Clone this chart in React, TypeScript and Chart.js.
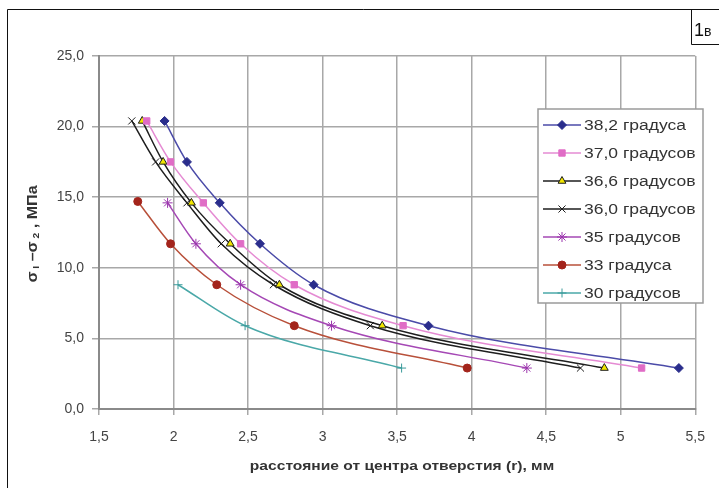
import React, { useEffect, useRef } from "react";
import { Chart, registerables } from "chart.js";
import { drawPoint } from "chart.js/helpers";

Chart.register(...registerables);

const seriesNames = [
  "38,2 градуса",
  "37,0 градусов",
  "36,6 градусов",
  "36,0 градусов",
  "35 градусов",
  "33 градуса",
  "30 градусов",
];

const x382 = [1.94, 2.09, 2.31, 2.58, 2.94, 3.71, 5.39];
const y382 = [20.4, 17.5, 14.6, 11.7, 8.8, 5.9, 2.9];
const x370 = [1.82, 1.98, 2.2, 2.45, 2.81, 3.54, 5.14];
const y370 = [20.4, 17.5, 14.6, 11.7, 8.8, 5.9, 2.9];
const x366 = [1.79, 1.93, 2.12, 2.38, 2.71, 3.4, 4.89];
const y366 = [20.4, 17.5, 14.6, 11.7, 8.8, 5.9, 2.9];
const x360 = [1.72, 1.88, 2.09, 2.32, 2.67, 3.32, 4.73];
const y360 = [20.4, 17.5, 14.6, 11.7, 8.8, 5.9, 2.9];
const x35 = [1.96, 2.15, 2.45, 3.06, 4.37];
const y35 = [14.6, 11.7, 8.8, 5.9, 2.9];
const x33 = [1.76, 1.98, 2.29, 2.81, 3.97];
const y33 = [14.7, 11.7, 8.8, 5.9, 2.9];
const x30 = [2.03, 2.48, 3.53];
const y30 = [8.8, 5.9, 2.9];

const xTicks = [1.5, 2, 2.5, 3, 3.5, 4, 4.5, 5, 5.5];
const yTicks = [0, 5, 10, 15, 20, 25];

const xTitle = "расстояние от центра отверстия (r), мм";
// y title pieces: [text, isSubscript]
const yTitleParts: [string, boolean][] = [
  ["σ", false],
  [" I", true],
  [" –σ", false],
  [" 2", true],
  [" , МПа", false],
];
const cornerLabel = ["1", "в"];

const styles = [
  { line: "#4b4ba8", fill: "#2a2d8c", border: "#2a2d8c", point: "rectRot", r: 4.5 },
  { line: "#e58bd3", fill: "#e06cc6", border: "#e06cc6", point: "rect", r: 4.5 },
  { line: "#1e1e1e", fill: "#f2e600", border: "#1e1e1e", point: "triangle", r: 4.5 },
  { line: "#1e1e1e", fill: "#1e1e1e", border: "#1e1e1e", point: "crossRot", r: 5 },
  { line: "#a548b5", fill: "#9b35ad", border: "#9b35ad", point: "star", r: 5 },
  { line: "#b8503a", fill: "#a3241b", border: "#a3241b", point: "circle", r: 4 },
  { line: "#4aa8a8", fill: "#3a9a9a", border: "#3a9a9a", point: "cross", r: 4.5 },
];

const xs = [x382, x370, x366, x360, x35, x33, x30];
const ys = [y382, y370, y366, y360, y35, y33, y30];

const FONT = "'Liberation Sans', Arial, sans-serif";

const decorPlugin = {
  id: "decor",
  beforeDraw(chart: any) {
    const ctx = chart.ctx;
    ctx.save();
    ctx.fillStyle = "#ffffff";
    ctx.fillRect(0, 0, chart.width, chart.height);
    ctx.restore();
  },
  afterDraw(chart: any) {
    const ctx = chart.ctx;
    ctx.save();
    // frame
    ctx.strokeStyle = "#111";
    ctx.lineWidth = 1;
    ctx.beginPath();
    ctx.moveTo(7.5, 488);
    ctx.lineTo(7.5, 9.5);
    ctx.lineTo(719, 9.5);
    ctx.stroke();
    // corner box
    ctx.beginPath();
    ctx.moveTo(719, 44.5);
    ctx.lineTo(691.5, 44.5);
    ctx.lineTo(691.5, 9.5);
    ctx.stroke();
    ctx.fillStyle = "#111";
    ctx.font = `18px ${FONT}`;
    ctx.textBaseline = "alphabetic";
    ctx.textAlign = "left";
    ctx.fillText(cornerLabel[0], 694, 36);
    ctx.font = `14px ${FONT}`;
    ctx.fillText(cornerLabel[1], 704, 36);

    // x axis title (slightly wide)
    ctx.fillStyle = "#333";
    ctx.font = `bold 13px ${FONT}`;
    ctx.textAlign = "center";
    ctx.textBaseline = "middle";
    ctx.save();
    ctx.translate(402, 466);
    ctx.scale(1.2, 1);
    ctx.fillText(xTitle, 0, 0);
    ctx.restore();

    // y axis title with subscripts
    ctx.save();
    ctx.translate(33, 234);
    ctx.rotate(-Math.PI / 2);
    ctx.scale(1.15, 1);
    ctx.textAlign = "left";
    const fontFor = (sub: boolean) => (sub ? `bold 9px ${FONT}` : `bold 14px ${FONT}`);
    let total = 0;
    yTitleParts.forEach(([t, sub]) => {
      ctx.font = fontFor(sub);
      total += ctx.measureText(t).width;
    });
    let cx = -total / 2;
    yTitleParts.forEach(([t, sub]) => {
      ctx.font = fontFor(sub);
      ctx.fillText(t, cx, sub ? 4 : 0);
      cx += ctx.measureText(t).width;
    });
    ctx.restore();

    // legend
    const lx = 538, ly = 109, lw = 165, lh = 194;
    ctx.fillStyle = "#fff";
    ctx.fillRect(lx, ly, lw, lh);
    ctx.strokeStyle = "#9a9a9a";
    ctx.lineWidth = 1.5;
    ctx.strokeRect(lx, ly, lw, lh);
    ctx.textAlign = "left";
    ctx.textBaseline = "middle";
    chart.data.datasets.forEach((ds: any, i: number) => {
      const yy = 125 + i * 28;
      const st = styles[i];
      ctx.strokeStyle = st.line;
      ctx.lineWidth = 1.5;
      ctx.beginPath();
      ctx.moveTo(543, yy);
      ctx.lineTo(581, yy);
      ctx.stroke();
      ctx.fillStyle = st.fill;
      ctx.strokeStyle = st.border;
      ctx.lineWidth = 1;
      drawPoint(ctx, { pointStyle: st.point, radius: st.r, rotation: 0, borderWidth: 1 }, 562, yy);
      ctx.fillStyle = "#333";
      ctx.save();
      ctx.translate(584, yy + 1);
      ctx.scale(1.25, 1);
      ctx.font = `14px ${FONT}`;
      ctx.fillText(ds.label, 0, 0);
      ctx.restore();
    });
    ctx.restore();
  },
};

export default function App() {
  const ref = useRef<HTMLCanvasElement>(null);
  useEffect(() => {
    if (!ref.current) return;
    const datasets = seriesNames.map((name, i) => ({
      label: name,
      data: xs[i].map((x, j) => ({ x, y: ys[i][j] })),
      showLine: true,
      borderColor: styles[i].line,
      borderWidth: 1.5,
      backgroundColor: styles[i].fill,
      pointBackgroundColor: styles[i].fill,
      pointBorderColor: styles[i].border,
      pointBorderWidth: 1,
      pointStyle: styles[i].point,
      pointRadius: styles[i].r,
      cubicInterpolationMode: "monotone",
    }));
    const chart = new Chart(ref.current, {
      type: "scatter",
      data: { datasets },
      options: {
        responsive: false,
        animation: false,
        devicePixelRatio: 1,
        layout: { padding: { left: 0, top: 56, right: 16, bottom: 0 } },
        plugins: { legend: { display: false }, tooltip: { enabled: false } },
        scales: {
          x: {
            type: "linear",
            min: 1.5,
            max: 5.5,
            afterFit: (s: any) => { s.height = 79; },
            afterBuildTicks: (s: any) => { s.ticks = xTicks.map((v) => ({ value: v })); },
            ticks: {
              color: "#444",
              font: { family: FONT, size: 14 },
              padding: 14,
              maxRotation: 0,
              callback: (v: any) => String(v).replace(".", ","),
            },
            grid: { color: "#a8a8a8", lineWidth: 1.5, tickLength: 6 },
            border: { color: "#8a8a8a", width: 2 },
          },
          y: {
            type: "linear",
            min: 0,
            max: 25,
            afterFit: (s: any) => { s.width = 99; },
            afterBuildTicks: (s: any) => { s.ticks = yTicks.map((v) => ({ value: v })); },
            ticks: {
              color: "#444",
              font: { family: FONT, size: 14 },
              padding: 8,
              callback: (v: any) => Number(v).toFixed(1).replace(".", ","),
            },
            grid: { color: "#a8a8a8", lineWidth: 1.5, tickLength: 7 },
            border: { color: "#8a8a8a", width: 2 },
          },
        },
      },
      plugins: [decorPlugin],
    } as any);
    return () => chart.destroy();
  }, []);
  return (
    <div style={{ position: "absolute", left: 0, top: 0, width: 719, height: 488 }}>
      <canvas ref={ref} width={719} height={488} />
    </div>
  );
}
